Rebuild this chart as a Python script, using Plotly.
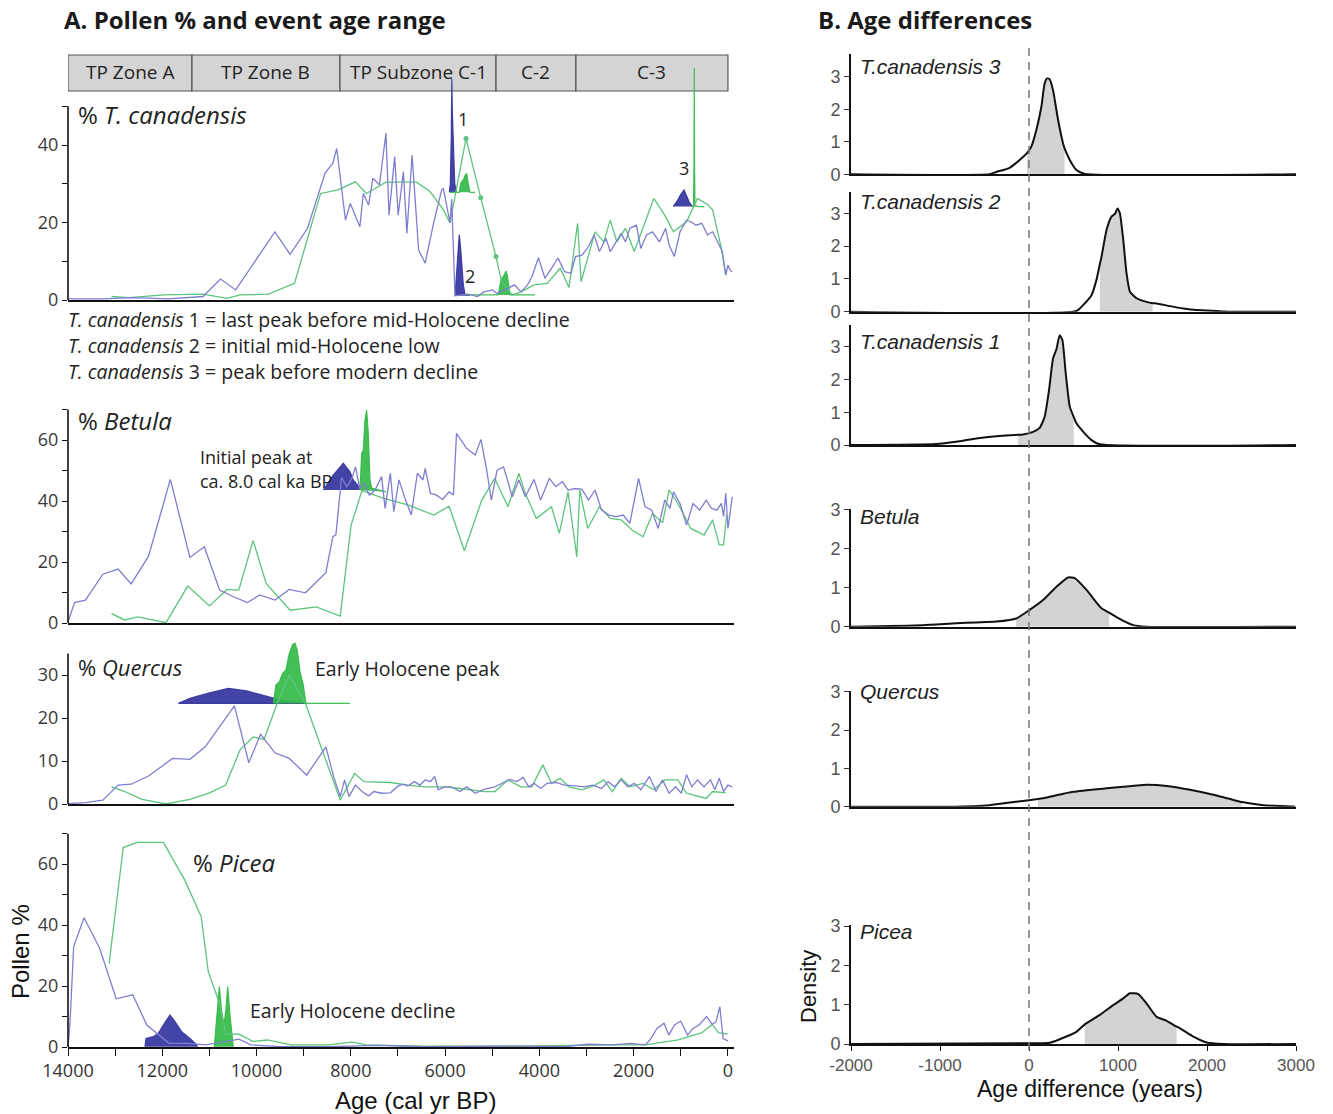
import plotly.graph_objects as go

W, H = 1333, 1114
def px(x): return x / W
def py(y): return 1 - y / H

# ------------------------------------------------------------------ data
zone_edges = [14000, 11370, 8230, 4920, 3225, 0]
zone_labels = ["TP Zone A", "TP Zone B", "TP Subzone C-1", "C-2", "C-3"]

# % T. canadensis
tc_blue_age = [14000, 13261, 12614, 11875, 11136, 10766, 10443, 9611, 9288, 8918, 8548, 8382, 8299, 8114, 8012,
               7809, 7735, 7624, 7532, 7393, 7255, 7190, 7070, 6996, 6885, 6811, 6700, 6562, 6423, 6238, 6072,
               6037, 5896, 5861, 5790, 5740, 5499, 5314, 5176, 4991, 4898, 4667, 4529, 4390, 4251, 4159, 4020,
               3882, 3743, 3605, 3466, 3327, 3235, 3097, 2958, 2838, 2727, 2588, 2496, 2376, 2265, 2173, 2081,
               1941, 1849, 1729, 1599, 1452, 1322, 1248, 1137, 1017, 878, 786, 675, 555, 435, 324, 213, 120, 46,
               0, -46, -92]
tc_blue_val = [0.3, 0.3, 0.6, 0.3, 0.9, 5.4, 2.6, 17.6, 11.8, 18.5, 32.7, 35.3, 39.1, 20.6, 24.9,
               18.9, 27.5, 24.5, 31.4, 29.7, 43.0, 21.9, 37.0, 21.9, 33.1, 17.2, 37.4, 12.9, 9.5, 20.2, 28.4,
               28.8, 19.9, 26.0, 1.1, 1.2, 1.5, 0.9, 2.1, 2.6, 1.7, 3.0, 3.9, 2.1, 3.9, 6.0, 10.9,
               5.6, 8.2, 10.8, 7.3, 6.9, 11.2, 11.6, 13.8, 16.8, 12.5, 15.9, 12.5, 15.0, 17.2, 15.0, 18.5,
               19.3, 13.3, 16.8, 17.6, 15.0, 18.5, 14.2, 11.2, 17.6, 20.6, 20.2, 19.3, 19.8, 16.8, 17.6, 15.0, 12.5, 6.4,
               9.0, 7.7, 7.3]
tc_green_age = [13076, 12706, 11967, 11136, 10627, 10350, 9750, 9195, 8641, 8271, 7902, 7671, 7255, 6608, 6321,
                6053, 5896, 5557, 5245, 4921, 4800, 4575, 4390, 4113, 3836, 3558, 3373, 3189, 3115, 2819, 2635,
                2496, 2357, 2173, 1988, 1572, 1341, 1156, 878, 647, 416, 324, 139, 46]
tc_green_val = [0.9, 0.6, 1.3, 1.5, 0.4, 1.3, 1.5, 4.3, 27.5, 28.4, 30.5, 27.5, 30.4, 30.4, 28.0,
                23.6, 19.9, 41.7, 26.4, 11.2, 4.7, 1.3, 2.1, 3.9, 4.3, 8.2, 3.2, 19.8, 4.7, 17.6, 15.0,
                20.6, 15.0, 18.5, 12.5, 26.2, 21.9, 17.6, 20.2, 26.2, 24.5, 23.2, 13.3, 6.4]
tc_green_marker_age = [5557, 5245, 4921]

# event age distributions (T. canadensis)
ev_tc1_blue_age = [5910, 5890, 5870, 5858, 5845, 5820, 5795, 5760]
ev_tc1_blue_val = [27.8, 30.0, 42.0, 57.0, 48.0, 35.0, 30.0, 27.8]
ev_tc1_green_age = [5896, 5700, 5670, 5627, 5600, 5572, 5543, 5522, 5500, 5472, 5366]
ev_tc1_green_val = [27.8, 27.8, 30.1, 30.9, 31.3, 32.3, 32.7, 30.9, 29.2, 27.8, 27.8]
ev_tc2_blue_age = [5790, 5755, 5720, 5700, 5670, 5642, 5614, 5578, 5480]
ev_tc2_blue_val = [1.1, 7.3, 14.2, 16.8, 13.3, 8.2, 4.0, 1.4, 1.1]
ev_tc2_green_age = [5578, 4872, 4836, 4800, 4766, 4730, 4709, 4681, 4651, 4624, 4093]
ev_tc2_green_val = [1.3, 1.3, 3.9, 5.6, 6.0, 6.9, 7.5, 6.5, 3.9, 1.3, 1.3]
ev_tc3_blue_age = [1160, 1080, 1000, 930, 880, 820, 750]
ev_tc3_blue_val = [24.1, 25.5, 27.3, 28.4, 27.0, 25.2, 24.1]
ev_tc3_green_age = [780, 730, 720, 714, 708, 700, 600, 500]
ev_tc3_green_val = [24.1, 24.3, 35.0, 59.9, 35.0, 24.3, 24.1, 24.1]

# % Betula
be_blue_age = [14000, 13861, 13630, 13261, 12937, 12660, 12291, 11829, 11413, 11108, 10784, 10489, 10193, 9934,
               9611, 9306, 8964, 8530, 8382, 8317, 8197, 8086, 7975, 7902, 7809, 7717, 7606, 7486, 7347, 7273,
               7162, 7088, 6977, 6839, 6718, 6589, 6469, 6423, 6312, 6192, 6053, 5915, 5823, 5758, 5545, 5361,
               5240, 5129, 5019, 4898, 4760, 4575, 4436, 4298, 4113, 3974, 3789, 3651, 3512, 3392, 3235, 3097,
               2958, 2819, 2681, 2524, 2376, 2219, 2081, 1896, 1757, 1618, 1480, 1341, 1230, 1156, 1017, 878,
               740, 601, 462, 351, 231, 139, 92, 46, 0, -46, -92]
be_blue_val = [0.4, 6.7, 7.5, 16.0, 17.7, 12.8, 21.9, 47.1, 21.5, 25.0, 10.8, 8.6, 6.7, 9.2,
               7.5, 11.0, 9.9, 16.5, 28.3, 28.9, 47.7, 44.7, 47.4, 51.2, 44.1, 45.8, 41.9, 43.6, 48.0, 37.6,
               49.1, 36.5, 46.9, 40.3, 35.4, 49.1, 46.9, 50.7, 42.5, 42.0, 40.5, 43.0, 42.0, 62.2, 57.3, 55.1,
               60.2, 51.2, 40.3, 50.1, 51.2, 41.4, 46.9, 41.4, 47.1, 40.3, 47.4, 44.7, 46.3, 43.6, 44.1, 43.8,
               40.3, 43.6, 37.0, 35.4, 34.9, 35.4, 32.7, 47.4, 38.1, 37.0, 31.0, 40.3, 37.6, 43.0, 39.2, 32.1,
               39.2, 37.0, 40.3, 37.6, 37.0, 39.2, 34.9, 42.5, 31.0, 37.0, 41.4]
be_green_age = [13076, 12799, 12522, 11921, 11459, 10997, 10627, 10378, 10073, 9796, 9288, 8733, 8225, 7994,
                7763, 7301, 6792, 6238, 5915, 5592, 5222, 4945, 4667, 4436, 4298, 4067, 3743, 3577, 3392, 3207,
                3143, 2976, 2727, 2496, 2265, 2034, 1803, 1599, 1387, 1248, 1063, 786, 508, 324, 185, 92, 28]
be_green_val = [3.1, 1.0, 2.0, 0.1, 12.1, 5.6, 11.0, 10.8, 27.0, 13.0, 4.2, 5.3, 2.3, 32.1,
                43.4, 40.9, 38.7, 35.4, 38.3, 23.7, 40.3, 47.4, 38.1, 49.1, 42.5, 34.3, 38.1, 29.4, 43.0, 21.7,
                43.6, 31.0, 38.1, 34.3, 33.8, 30.5, 28.3, 35.9, 32.9, 43.6, 39.2, 31.0, 28.8, 33.8, 25.6, 25.6, 35.4]
ev_be_blue_age = [8584, 8372, 8160, 8018, 7948, 7842, 7770, 7717]
ev_be_blue_val = [43.6, 48.5, 52.4, 49.6, 46.9, 44.9, 43.6, 43.6]
ev_be_green_age = [7806, 7770, 7736, 7700, 7664, 7630, 7594, 7558, 7255]
ev_be_green_val = [43.6, 55.6, 56.7, 66.6, 69.8, 62.2, 46.9, 44.2, 43.0]

# % Quercus
qu_blue_age = [14000, 13630, 13261, 12937, 12660, 12291, 11782, 11413, 11089, 10766, 10470, 10165, 9915, 9611,
               9306, 8936, 8530, 8364, 8225, 8132, 8040, 7902, 7763, 7624, 7513, 7347, 7162, 6996, 6885, 6792,
               6654, 6534, 6423, 6312, 6220, 6146, 6007, 5869, 5684, 5545, 5361, 5176, 4945, 4760, 4621, 4482,
               4344, 4224, 4113, 3974, 3836, 3651, 3466, 3235, 3050, 2866, 2681, 2542, 2404, 2265, 2127, 1988,
               1849, 1664, 1526, 1387, 1248, 1110, 989, 878, 767, 647, 508, 370, 277, 185, 92, 0, -92]
qu_blue_val = [0.1, 0.3, 0.9, 4.4, 4.6, 6.5, 10.6, 10.4, 13.3, 18.4, 22.8, 9.6, 16.2, 11.9,
               10.6, 6.7, 13.3, 6.3, 1.7, 5.6, 1.7, 4.4, 2.9, 1.9, 2.9, 2.5, 2.6, 4.2, 4.6, 4.2,
               5.2, 4.4, 5.6, 5.2, 6.4, 3.3, 4.0, 4.0, 2.9, 4.0, 2.5, 3.4, 4.0, 5.0, 5.7, 5.2,
               6.2, 4.0, 4.8, 3.6, 4.8, 5.0, 4.4, 4.2, 4.0, 4.4, 3.6, 5.2, 4.0, 5.6, 4.0, 4.8,
               3.3, 6.4, 2.9, 5.6, 2.5, 4.0, 2.5, 6.8, 4.0, 5.6, 4.0, 5.6, 3.3, 6.0, 2.9, 4.4, 4.0]
qu_green_age = [13076, 12799, 12429, 11921, 11413, 10997, 10655, 10350, 10073, 9842, 9565, 9300, 8964, 8225,
                7920, 7717, 7162, 6792, 6423, 6007, 5684, 5176, 4945, 4667, 4390, 4159, 3928, 3743, 3558, 3373,
                3097, 2819, 2635, 2450, 2265, 2081, 1803, 1572, 1341, 1063, 878, 462, 324, 46]
qu_green_val = [4.0, 2.9, 1.1, 0.0, 1.1, 2.6, 4.4, 12.6, 15.6, 15.0, 23.3, 30.0, 23.4, 0.9,
                7.1, 5.2, 5.0, 4.4, 4.0, 4.0, 3.6, 2.9, 2.9, 5.6, 4.0, 4.0, 9.1, 4.8, 6.0, 4.0,
                3.3, 4.4, 5.6, 2.9, 6.0, 4.0, 4.8, 3.3, 5.6, 5.6, 2.5, 1.3, 2.9, 2.6]
ev_qu_blue_age = [11660, 11412, 11058, 10600, 10209, 9785, 9361, 8936, 11660]
ev_qu_blue_val = [23.4, 24.6, 25.7, 26.9, 26.3, 25.0, 23.8, 23.4, 23.4]
ev_qu_green_age = [9645, 9588, 9518, 9447, 9376, 9306, 9234, 9185, 9136, 9078, 9009, 8951, 8018]
ev_qu_green_val = [23.4, 27.7, 28.4, 30.4, 31.2, 35.0, 37.1, 37.4, 35.8, 30.8, 27.7, 23.4, 23.4]

# % Picea
pi_blue_age = [14000, 13960, 13880, 13659, 13329, 12978, 12627, 12327, 11856, 11475, 11074, 10673, 10373, 10122,
               9471, 8469, 7467, 6465, 5463, 4461, 3459, 2958, 2457, 2056, 1756, 1656, 1505, 1355, 1255, 1134,
               1004, 854, 754, 603, 453, 333, 253, 172, 102, 0]
pi_blue_val = [0.0, 7.2, 32.9, 42.4, 32.4, 15.8, 17.1, 7.2, 1.2, 1.2, 0.7, 1.8, 2.6, 0.7,
               0.1, 0.1, 0.5, 0.1, 0.3, 0.3, 0.1, 0.9, 0.7, 1.2, 0.7, 2.3, 6.1, 7.8, 3.9, 7.2,
               8.5, 3.9, 5.9, 7.4, 10.0, 7.4, 8.3, 13.2, 2.8, 2.0]
pi_green_age = [13128, 12828, 12527, 11976, 11525, 11174, 11024, 10774, 10654, 10373, 10072, 9771, 9270, 8469,
                7968, 7668, 6465, 4461, 2457, 1756, 1054, 553, 333, 202, 0]
pi_green_val = [27.4, 65.4, 67.1, 67.1, 54.8, 42.7, 24.7, 13.8, 4.2, 4.2, 1.8, 2.3, 0.7, 0.7,
                1.6, 0.7, 0.3, 0.3, 0.7, 0.7, 2.3, 4.7, 7.4, 4.7, 4.2]
ev_pi_blue_age = [12367, 12345, 12190, 12084, 11978, 11836, 11730, 11588, 11412, 11270, 11257]
ev_pi_blue_val = [0.1, 2.8, 3.4, 4.5, 7.2, 10.5, 8.3, 5.0, 2.8, 0.7, 0.1]
ev_pi_green_age = [10897, 10846, 10790, 10740, 10691, 10648, 10612, 10563, 10506, 10494]
ev_pi_green_val = [0.1, 8.3, 19.8, 11.6, 7.2, 12.7, 19.8, 10.5, 1.7, 0.1]

# B. age difference densities
tc3_diff = [-2000, -443, -368, -218, -105, -23, 26, 83, 139, 176, 203, 233, 270, 327, 383, 400, 458, 533, 627, 3000]
tc3_dens = [0, 0, 0.07, 0.2, 0.44, 0.65, 0.85, 1.37, 2.08, 2.8, 2.95, 2.92, 2.59, 1.67, 0.95, 0.8, 0.44, 0.13, 0.01, 0]
tc3_shade = [-23, 400]
tc2_diff = [-2000, 533, 608, 702, 758, 796, 815, 871, 927, 965, 995, 1021, 1059, 1096, 1134, 1209, 1321, 1389,
            1434, 1584, 1734, 1884, 2110, 2260, 3000]
tc2_dens = [0, 0.02, 0.2, 0.5, 0.97, 1.45, 1.68, 2.49, 2.9, 2.98, 3.15, 3.0, 2.19, 1.17, 0.61, 0.41, 0.3, 0.26,
            0.25, 0.17, 0.1, 0.05, 0.02, 0, 0]
tc2_shade = [796, 1389]
tc1_diff = [-2000, -1044, -818, -593, -368, -218, -124, -68, 45, 120, 176, 225, 270, 308, 345, 375, 413, 458, 503,
            533, 608, 702, 796, 3000]
tc1_dens = [0, 0.03, 0.1, 0.2, 0.27, 0.3, 0.31, 0.32, 0.4, 0.52, 0.86, 1.67, 2.64, 2.92, 3.35, 3.2, 2.18, 1.17, 0.85,
            0.66, 0.41, 0.15, 0.02, 0]
tc1_shade = [-124, 503]
bed_diff = [-2000, -1194, -818, -593, -368, -143, 8, 158, 308, 439, 514, 646, 814, 901, 1002, 1171, 1321, 3000]
bed_dens = [0, 0.04, 0.09, 0.11, 0.13, 0.21, 0.43, 0.68, 1.02, 1.26, 1.24, 0.94, 0.47, 0.36, 0.22, 0.04, 0, 0]
bed_shade = [-143, 901]
qud_diff = [-2000, -893, -443, -143, 101, 158, 496, 871, 1059, 1321, 1547, 1809, 2072, 2373, 2391, 2635, 2992]
qud_dens = [0, 0, 0.04, 0.13, 0.2, 0.22, 0.39, 0.48, 0.52, 0.57, 0.54, 0.44, 0.31, 0.13, 0.12, 0.04, 0]
qud_shade = [101, 2391]
pid_diff = [-2000, -68, 233, 420, 533, 627, 646, 796, 946, 1059, 1134, 1228, 1321, 1434, 1547, 1659, 1697, 1847,
            1997, 2185, 3000]
pid_dens = [0, 0.02, 0.03, 0.19, 0.31, 0.5, 0.53, 0.74, 0.99, 1.16, 1.29, 1.27, 1.03, 0.69, 0.59, 0.44, 0.4, 0.19,
            0.04, 0, 0]
pid_shade = [627, 1659]

left_xticks = [14000, 12000, 10000, 8000, 6000, 4000, 2000, 0]
right_xticks = [-2000, -1000, 0, 1000, 2000, 3000]

# ------------------------------------------------------------------ style
BLUE_LINE = "#7e7ed0"
GREEN_LINE = "#5cc47c"
BLUE_FILL = "rgba(52,52,158,0.92)"
GREEN_FILL = "rgba(52,186,72,0.92)"
LFONT = "Open Sans"
AFONT = "Liberation Sans, Arial"

fig = go.Figure()
layout = dict(width=W, height=H, margin=dict(l=0, r=0, t=0, b=0, autoexpand=False), paper_bgcolor="white",
              plot_bgcolor="rgba(0,0,0,0)", showlegend=False)
shapes, annotations = [], []

LX = [px(68), px(733.6)]
LRANGE = [14000, -120]

# (y0 px, scale px/unit, range top, axis top, major ticks, minor ticks)
left_panels = [
    (300, 3.875, 63.2, 50, [0, 20, 40], [10, 30, 50]),
    (623, 3.05, 72, 70, [0, 20, 40, 60], [10, 30, 50, 70]),
    (804, 4.3, 38.5, 35, [0, 10, 20, 30], []),
    (1047, 3.05, 70, 70, [0, 20, 40, 60], [10, 30, 50, 70]),
]
left_series = [
    (tc_blue_age, tc_blue_val, tc_green_age, tc_green_val,
     [(ev_tc1_blue_age, ev_tc1_blue_val, BLUE_FILL), (ev_tc1_green_age, ev_tc1_green_val, GREEN_FILL),
      (ev_tc2_blue_age, ev_tc2_blue_val, BLUE_FILL), (ev_tc2_green_age, ev_tc2_green_val, GREEN_FILL),
      (ev_tc3_blue_age, ev_tc3_blue_val, BLUE_FILL), (ev_tc3_green_age, ev_tc3_green_val, GREEN_FILL)]),
    (be_blue_age, be_blue_val, be_green_age, be_green_val,
     [(ev_be_blue_age, ev_be_blue_val, BLUE_FILL), (ev_be_green_age, ev_be_green_val, GREEN_FILL)]),
    (qu_blue_age, qu_blue_val, qu_green_age, qu_green_val,
     [(ev_qu_blue_age, ev_qu_blue_val, BLUE_FILL), (ev_qu_green_age, ev_qu_green_val, GREEN_FILL)]),
    (pi_blue_age, pi_blue_val, pi_green_age, pi_green_val,
     [(ev_pi_blue_age, ev_pi_blue_val, BLUE_FILL), (ev_pi_green_age, ev_pi_green_val, GREEN_FILL)]),
]

for i, ((y0, sc, rtop, atop, major, minor), (ba, bv, ga, gv, evs)) in enumerate(zip(left_panels, left_series)):
    n = i + 1
    xs = "x" if n == 1 else f"x{n}"
    ys = "y" if n == 1 else f"y{n}"
    ytop_px = y0 - rtop * sc
    is_bottom = (n == 4)
    xa = dict(domain=LX, range=LRANGE, anchor=ys, showgrid=False, zeroline=False, automargin=False,
              showline=True, linecolor="#111", linewidth=1.6)
    if is_bottom:
        xa.update(tickmode="array", tickvals=left_xticks, ticktext=[str(v) for v in left_xticks],
                  ticks="outside", ticklen=7, tickwidth=1.2, tickcolor="#111",
                  tickfont=dict(family=LFONT, size=18, color="#333"),
                  minor=dict(tickmode="array", tickvals=list(range(13000, 0, -2000)), ticks="outside",
                             ticklen=7, tickwidth=1.2, tickcolor="#111"))
    else:
        xa.update(showticklabels=False, ticks="")
    ya = dict(domain=[py(y0), py(ytop_px)], range=[0, rtop], anchor=xs, showgrid=False, zeroline=False,
              automargin=False, showline=False, tickmode="array", tickvals=major,
              ticktext=[str(v) for v in major],
              ticks="outside", ticklen=5, tickwidth=1.2, tickcolor="#111",
              tickfont=dict(family=LFONT, size=18, color="#3a3a3a"))
    if minor:
        ya["minor"] = dict(tickmode="array", tickvals=minor, ticks="outside", ticklen=5,
                           tickwidth=1.2, tickcolor="#111")
    layout["xaxis" if n == 1 else f"xaxis{n}"] = xa
    layout["yaxis" if n == 1 else f"yaxis{n}"] = ya
    shapes.append(dict(type="line", xref="paper", yref=ys, x0=LX[0], x1=LX[0], y0=0, y1=atop,
                       line=dict(color="#111", width=1.6)))
    for ea, ev, col in evs:
        fig.add_trace(go.Scatter(x=ea, y=ev, xaxis=xs, yaxis=ys, mode="lines", fill="toself",
                                 fillcolor=col, line=dict(color=col, width=1.2), hoverinfo="skip"))
    fig.add_trace(go.Scatter(x=ga, y=gv, xaxis=xs, yaxis=ys, mode="lines",
                             line=dict(color=GREEN_LINE, width=1.3)))
    fig.add_trace(go.Scatter(x=ba, y=bv, xaxis=xs, yaxis=ys, mode="lines",
                             line=dict(color=BLUE_LINE, width=1.3)))

# green T. canadensis sample dots
fig.add_trace(go.Scatter(x=tc_green_marker_age,
                         y=[tc_green_val[tc_green_age.index(a)] for a in tc_green_marker_age],
                         xaxis="x", yaxis="y", mode="markers",
                         marker=dict(color=GREEN_LINE, size=5)))

# zone bar
for i, lab in enumerate(zone_labels):
    shapes.append(dict(type="rect", xref="x", yref="paper", x0=zone_edges[i], x1=zone_edges[i + 1],
                       y0=py(91), y1=py(55), fillcolor="#d4d4d4", line=dict(color="#555", width=1.2),
                       layer="below"))
    annotations.append(dict(text=lab, xref="x", yref="paper", x=(zone_edges[i] + zone_edges[i + 1]) / 2,
                            y=py(72), yanchor="middle", showarrow=False,
                            font=dict(family=LFONT, size=19, color="#222")))

# ------------------------------------------------------------------ right panels
RX = [px(851), px(1296)]
right_panels = [
    ("T.canadensis 3", 174.3, 32.5, 3.7, tc3_diff, tc3_dens, tc3_shade, 66),
    ("T.canadensis 2", 311.7, 32.8, 3.66, tc2_diff, tc2_dens, tc2_shade, 201),
    ("T.canadensis 1", 445.0, 32.8, 3.66, tc1_diff, tc1_dens, tc1_shade, 341),
    ("Betula", 626.7, 39.1, 3.02, bed_diff, bed_dens, bed_shade, 516),
    ("Quercus", 806.7, 38.3, 3.02, qud_diff, qud_dens, qud_shade, 691),
    ("Picea", 1044.0, 39.3, 3.02, pid_diff, pid_dens, pid_shade, 931),
]
for j, (lab, y0, sc, rtop, dx, dd, shade, laby) in enumerate(right_panels):
    n = j + 5
    xs, ys = f"x{n}", f"y{n}"
    ytop_px = y0 - rtop * sc
    xa = dict(domain=RX, range=[-2000, 3000], anchor=ys, showgrid=False, zeroline=False, automargin=False,
              showline=True, linecolor="#111", linewidth=2)
    if n == 10:
        xa.update(tickmode="array", tickvals=right_xticks, ticktext=[str(v) for v in right_xticks],
                  ticks="outside", ticklen=5, tickwidth=1.2, tickcolor="#111",
                  tickfont=dict(family=AFONT, size=17, color="#555"))
    else:
        xa.update(showticklabels=False, ticks="")
    ya = dict(domain=[py(y0), py(ytop_px)], range=[0, rtop], anchor=xs, showgrid=False, zeroline=False,
              automargin=False, showline=True, linecolor="#111", linewidth=1.6, tickmode="array",
              tickvals=[0, 1, 2, 3], ticks="outside", ticklen=5, tickwidth=1.2, tickcolor="#333",
              tickfont=dict(family=AFONT, size=18, color="#555"))
    layout[f"xaxis{n}"] = xa
    layout[f"yaxis{n}"] = ya
    sx = [d for d in dx if shade[0] <= d <= shade[1]]
    sy = [dd[k] for k, d in enumerate(dx) if shade[0] <= d <= shade[1]]
    fig.add_trace(go.Scatter(x=sx, y=sy, xaxis=xs, yaxis=ys, mode="lines", fill="tozeroy",
                             fillcolor="#d3d3d3", line=dict(width=0, color="#d3d3d3")))
    fig.add_trace(go.Scatter(x=dx, y=dd, xaxis=xs, yaxis=ys, mode="lines",
                             line=dict(color="#111", width=2, shape="spline", smoothing=0.5)))
    annotations.append(dict(text=f"<i>{lab}</i>", xref="paper", yref="paper", x=px(858), y=py(laby),
                            xanchor="left", yanchor="middle", showarrow=False,
                            font=dict(family=AFONT, size=21, color="#222")))

shapes.append(dict(type="line", xref="x5", yref="paper", x0=0, x1=0, y0=py(1050), y1=py(42),
                   line=dict(color="#777", width=1.5, dash="8px,6px")))

# ------------------------------------------------------------------ text
def note(text, x, y, size, xanchor="left", family=LFONT, color="#222", angle=0):
    annotations.append(dict(text=text, xref="paper", yref="paper", x=px(x), y=py(y), xanchor=xanchor,
                            yanchor="middle", showarrow=False, textangle=angle,
                            font=dict(family=family, size=size, color=color)))

note("<b>A. Pollen % and event age range</b>", 62, 20, 24, color="#1a1a1a")
note("<b>B. Age differences</b>", 816, 20, 24, color="#1a1a1a")
note("% <i>T. canadensis</i>", 76, 114, 24)
note("<i>T. canadensis</i> 1 = last peak before mid-Holocene decline", 66, 319, 19.5)
note("<i>T. canadensis</i> 2 = initial mid-Holocene low", 66, 345, 19.5)
note("<i>T. canadensis</i> 3 = peak before modern decline", 66, 371, 19.5)
note("% <i>Betula</i>", 76, 421, 24)
note("Initial peak at", 198, 457, 18)
note("ca. 8.0 cal ka BP", 198, 481, 18)
note("% <i>Quercus</i>", 76, 667, 22)
note("Early Holocene peak", 313, 668, 19.5)
note("% <i>Picea</i>", 191, 862, 24)
note("Early Holocene decline", 248, 1010, 19.5)
note("Pollen %", 20, 952, 24, xanchor="center", family=AFONT, color="#111", angle=-90)
note("Age (cal yr BP)", 415, 1100, 24, xanchor="center", family=AFONT, color="#111")
note("Density", 808, 986, 22, xanchor="center", family=AFONT, color="#111", angle=-90)
note("Age difference (years)", 1090, 1089, 23, xanchor="center", family=AFONT, color="#111")

for t, a, v in [("1", 5621, 46.7), ("2", 5472, 6.2), ("3", 933, 34.0)]:
    annotations.append(dict(text=t, xref="x", yref="y", x=a, y=v, showarrow=False,
                            font=dict(family=LFONT, size=18, color="#222")))

layout["shapes"] = shapes
layout["annotations"] = annotations
fig.update_layout(**layout)
fig.write_html("out.html")
